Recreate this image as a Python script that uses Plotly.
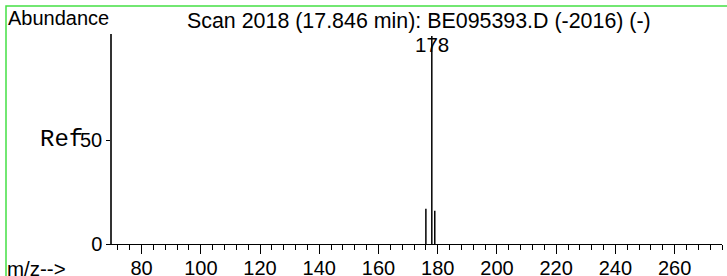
import plotly.graph_objects as go

# Data
mz = [176, 178, 179]
abundance = [17, 100, 16]
peak_label = "178"
x_major_ticks = [80, 100, 120, 140, 160, 180, 200, 220, 240, 260]
y_tick_vals = [0, 50]
y_tick_text = ["0", "50"]
title_text = "Scan 2018 (17.846 min): BE095393.D (-2016) (-)"

W, H = 727, 276
L, R, T, B = 112, 5, 34, 32
PW = W - L - R
PH = H - T - B


def px(xp):
    return (xp - L) / PW


def py(yp):
    return (H - B - yp) / PH


# stems
xs, ys = [], []
for m, a in zip(mz, abundance):
    xs += [m, m, None]
    ys += [0, a, None]

fig = go.Figure()
fig.add_trace(go.Scatter(x=xs, y=ys, mode="lines",
                         line=dict(color="black", width=1.5),
                         hoverinfo="skip", showlegend=False))

font = "Liberation Sans, Arial, sans-serif"

fig.update_layout(
    width=W, height=H,
    margin=dict(l=L, r=R, t=T, b=B, pad=0, autoexpand=False),
    paper_bgcolor="white", plot_bgcolor="white",
    showlegend=False,
    font=dict(family=font, size=20, color="black"),
    xaxis=dict(range=[70, 276], showgrid=False, zeroline=False, automargin=False,
               showline=True, linecolor="black", linewidth=1,
               tickvals=x_major_ticks, ticks="outside", ticklen=9,
               tickcolor="black", tickwidth=1, ticklabelstandoff=-3,
               tickfont=dict(family=font, size=20, color="black"),
               minor=dict(dtick=4, tick0=0, ticks="outside", ticklen=5,
                          tickcolor="black", tickwidth=1, showgrid=False)),
    yaxis=dict(range=[0, 101], showgrid=False, zeroline=False, automargin=False,
               showline=True, linecolor="#333333", linewidth=1.5,
               tickvals=y_tick_vals, ticktext=y_tick_text,
               ticks="outside", ticklen=4, tickcolor="black",
               tickfont=dict(family=font, size=20, color="black")),
)

annots = [
    dict(text="Abundance", x=px(6), y=py(18), xanchor="left", yanchor="middle",
         font=dict(family=font, size=20)),
    dict(text=title_text, x=px(418.5), y=py(21), xanchor="center", yanchor="middle",
         font=dict(family=font, size=21.4)),
    dict(text="m/z-->", x=px(5), y=py(268), xanchor="left", yanchor="middle",
         font=dict(family=font, size=20.5)),
    dict(text="Ref", x=px(85), y=py(139), xanchor="right", yanchor="middle",
         font=dict(family="Courier New, Liberation Mono, monospace", size=24)),
]
for a in annots:
    fig.add_annotation(xref="paper", yref="paper", showarrow=False, **a)

fig.add_annotation(text=peak_label, xref="x", yref="paper", x=mz[1], y=py(44.5),
                   xanchor="center", yanchor="middle", showarrow=False,
                   font=dict(family=font, size=20.5))

fig.add_shape(type="rect", xref="paper", yref="paper",
              x0=px(6), x1=px(740), y0=py(290), y1=py(6),
              line=dict(color="#44e044", width=1.5), fillcolor="rgba(0,0,0,0)",
              layer="above")

fig.write_html("out.html", config={"displayModeBar": False},
               post_script="document.body.style.margin='0';document.body.style.overflow='hidden';")
